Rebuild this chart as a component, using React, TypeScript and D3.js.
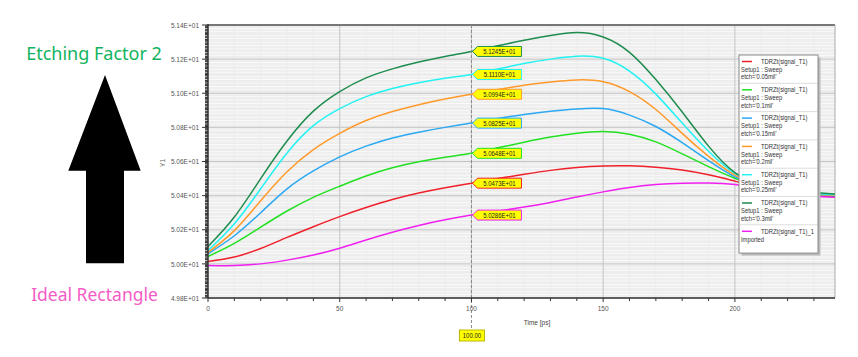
import React from "react";
import * as d3 from "d3";

const times = [0, 10, 20, 30, 40, 50, 60, 70, 80, 90, 100, 110, 120, 130, 140, 150, 160, 170, 180, 190, 200, 210, 220, 230, 238];

const etch030 = [50.102, 50.275, 50.5, 50.72, 50.895, 51.01, 51.09, 51.143, 51.183, 51.216, 51.245, 51.278, 51.31, 51.338, 51.356, 51.33, 51.24, 51.08, 50.89, 50.69, 50.535, 50.46, 50.43, 50.418, 50.41];
const etch025 = [50.078, 50.235, 50.44, 50.65, 50.81, 50.91, 50.98, 51.028, 51.062, 51.088, 51.11, 51.142, 51.174, 51.2, 51.217, 51.205, 51.13, 50.995, 50.825, 50.66, 50.53, 50.458, 50.425, 50.412, 50.405];
const etch020 = [50.067, 50.195, 50.37, 50.54, 50.67, 50.765, 50.84, 50.893, 50.933, 50.966, 50.994, 51.022, 51.047, 51.066, 51.078, 51.068, 51.01, 50.905, 50.765, 50.63, 50.52, 50.455, 50.422, 50.408, 50.402];
const etch015 = [50.059, 50.165, 50.3, 50.44, 50.545, 50.627, 50.69, 50.738, 50.772, 50.8, 50.825, 50.852, 50.876, 50.895, 50.908, 50.91, 50.872, 50.805, 50.71, 50.605, 50.51, 50.45, 50.417, 50.405, 50.4];
const etch010 = [50.043, 50.12, 50.215, 50.31, 50.39, 50.455, 50.515, 50.563, 50.598, 50.625, 50.648, 50.68, 50.713, 50.743, 50.766, 50.776, 50.76, 50.715, 50.645, 50.57, 50.502, 50.45, 50.417, 50.402, 50.398];
const etch005 = [50.014, 50.04, 50.09, 50.155, 50.218, 50.277, 50.33, 50.377, 50.415, 50.446, 50.473, 50.5, 50.525, 50.548, 50.565, 50.574, 50.575, 50.567, 50.55, 50.522, 50.485, 50.448, 50.418, 50.4, 50.394];
const imported = [49.991, 49.99, 50.0, 50.022, 50.052, 50.092, 50.14, 50.185, 50.225, 50.258, 50.286, 50.31, 50.333, 50.36, 50.392, 50.422, 50.448, 50.465, 50.473, 50.474, 50.465, 50.44, 50.412, 50.396, 50.39];

const seriesNames = ["etch='0.05mil'", "etch='0.1mil'", "etch='0.15mil'", "etch='0.2mil'", "etch='0.25mil'", "etch='0.3mil'", "Imported"];
const seriesTitles = ["TDRZt(signal_T1)", "TDRZt(signal_T1)", "TDRZt(signal_T1)", "TDRZt(signal_T1)", "TDRZt(signal_T1)", "TDRZt(signal_T1)", "TDRZt(signal_T1)_1"];
const seriesSetup = ["Setup1 : Sweep", "Setup1 : Sweep", "Setup1 : Sweep", "Setup1 : Sweep", "Setup1 : Sweep", "Setup1 : Sweep", ""];
const seriesValues = [etch005, etch010, etch015, etch020, etch025, etch030, imported];
const seriesColors = ["#f0202a", "#22e022", "#2aa8f2", "#ff9a2a", "#22f2f2", "#1e8c4e", "#f020f0"];

const yTicks = [49.8, 50.0, 50.2, 50.4, 50.6, 50.8, 51.0, 51.2, 51.4];
const xTicks = [0, 50, 100, 150, 200];
const markerTime = 100;

const W = 858, H = 357;
const L = 208, R = 835, T = 25, B = 298;
const FONT = "'Liberation Sans', Arial, sans-serif";

function NT(props: { x: number; y: number; size: number; sx: number; anchor?: string; fill?: string; children: any }) {
  const { x, y, size, sx, anchor, fill, children } = props;
  return (
    <text transform={`translate(${x},${y}) scale(${sx},1)`} dy="0.35em" fontSize={size} textAnchor={anchor || "start"} fill={fill || "#333"}>
      {children}
    </text>
  );
}

export default function App() {
  const x = d3.scaleLinear().domain([0, 238]).range([L, R]);
  const y = d3.scaleLinear().domain([49.8, 51.4]).range([B, T]);
  const line = d3.line<number>().x((_, i) => x(times[i])).y((v) => y(v)).curve(d3.curveNatural);
  const fmtY = (v: number) => (v / 10).toFixed(2) + "E+01";
  const fmtM = (v: number) => (v / 10).toFixed(4) + "E+01";

  const yMinor = d3.range(49.8, 51.4001, 0.005).filter((v) => Math.abs(Math.round(v / 0.02) * 0.02 - v) > 1e-6);
  const xMinor = d3.range(0, 238, 10).filter((v) => v % 50 !== 0);
  const mi = times.indexOf(markerTime);
  const mx = x(markerTime);

  const legX = 739, legY = 55, legW = 79, entryH = 28.3;

  return (
    <svg width={W} height={H} style={{ position: "absolute", left: 0, top: 0, background: "#fff" }} fontFamily={FONT}>
      {/* grid */}
      {yMinor.map((v, i) => (
        <line key={"ym" + i} x1={L} x2={R} y1={y(v)} y2={y(v)} stroke="#ececec" strokeWidth={1} />
      ))}
      {xMinor.map((v) => (
        <line key={"xm" + v} x1={x(v)} x2={x(v)} y1={T} y2={B} stroke="#ececec" strokeWidth={1} />
      ))}
      {yTicks.map((v) => (
        <line key={"yg" + v} x1={L} x2={R} y1={y(v)} y2={y(v)} stroke="#c4c4c4" strokeWidth={1} />
      ))}
      {xTicks.filter((v) => v !== 0).map((v) => (
        <line key={"xg" + v} x1={x(v)} x2={x(v)} y1={T} y2={B} stroke="#c4c4c4" strokeWidth={1} />
      ))}
      <line x1={L} x2={R} y1={T} y2={T} stroke="#555" strokeWidth={1.5} />
      <line x1={R} x2={R} y1={T} y2={B} stroke="#aaa" strokeWidth={1} />

      {/* series */}
      {seriesValues.map((vals, i) => (
        <path key={"s" + i} d={line(vals) || ""} fill="none" stroke={seriesColors[i]} strokeWidth={1.5} />
      ))}

      {/* marker line */}
      <line x1={mx} x2={mx} y1={T} y2={330} stroke="#888" strokeWidth={1} strokeDasharray="3,2" />

      {/* axes */}
      <line x1={L} x2={L} y1={T - 1} y2={B} stroke="#333" strokeWidth={1.5} />
      <line x1={L} x2={R} y1={B} y2={B} stroke="#333" strokeWidth={1.5} />
      {yTicks.map((v) => (
        <g key={"yt" + v}>
          <line x1={L - 6} x2={L} y1={y(v)} y2={y(v)} stroke="#333" />
          <NT x={L - 9} y={y(v)} size={7.5} sx={0.87} anchor="end" fill="#555">{fmtY(v)}</NT>
        </g>
      ))}
      {yMinor.map((v, i) => (
        <line key={"ymt" + i} x1={L - 3} x2={L} y1={y(v)} y2={y(v)} stroke="#333" />
      ))}
      {xTicks.map((v) => (
        <g key={"xt" + v}>
          <line x1={x(v)} x2={x(v)} y1={B} y2={B + 4} stroke="#333" />
          <NT x={x(v)} y={B + 10} size={7.5} sx={0.87} anchor="middle" fill="#555">{v}</NT>
        </g>
      ))}
      {xMinor.map((v) => (
        <line key={"xmt" + v} x1={x(v)} x2={x(v)} y1={B} y2={B + 3} stroke="#333" />
      ))}
      <NT x={537} y={322} size={7.5} sx={0.87} anchor="middle" fill="#444">Time [ps]</NT>
      <text transform={`translate(163,163) rotate(-90)`} textAnchor="middle" dy="0.35em" fontSize={7} fill="#666">Y1</text>

      {/* marker labels */}
      {seriesValues.map((vals, i) => {
        const my = y(vals[mi]);
        const bx = mx + 6, bw = 44, bh = 10;
        return (
          <g key={"ml" + i}>
            <path d={`M${mx + 1},${my} L${bx},${my - bh / 2} L${bx + bw},${my - bh / 2} L${bx + bw},${my + bh / 2} L${bx},${my + bh / 2} Z`} fill="#ffff00" stroke={seriesColors[i]} strokeWidth={1} />
            <NT x={bx + bw / 2} y={my} size={7.5} sx={0.8} anchor="middle" fill="#222">{fmtM(vals[mi])}</NT>
          </g>
        );
      })}
      <rect x={mx - 12} y={330} width={25} height={11} fill="#ffff00" stroke="#b8b800" />
      <NT x={mx + 0.5} y={335.5} size={7.5} sx={0.8} anchor="middle" fill="#222">{markerTime.toFixed(2)}</NT>

      {/* legend */}
      <rect x={legX + 2.5} y={legY + 2.5} width={legW} height={entryH * 7} fill="#bbb" />
      <rect x={legX} y={legY} width={legW} height={entryH * 7} fill="#fff" stroke="#888" strokeWidth={1} />
      {seriesNames.map((n, i) => {
        const ey = legY + i * entryH;
        return (
          <g key={"lg" + i}>
            {i > 0 && <line x1={legX + 1} x2={legX + legW - 1} y1={ey} y2={ey} stroke="#ddd" />}
            <line x1={legX + 3} x2={legX + 13} y1={ey + 6.5} y2={ey + 6.5} stroke={seriesColors[i]} strokeWidth={1.5} />
            <NT x={legX + 22} y={ey + 6.5} size={6.5} sx={0.9}>{seriesTitles[i]}</NT>
            {seriesSetup[i] ? (
              <>
                <NT x={legX + 2} y={ey + 14.5} size={6.5} sx={0.9}>{seriesSetup[i]}</NT>
                <NT x={legX + 2} y={ey + 22} size={6.5} sx={0.9}>{n}</NT>
              </>
            ) : (
              <NT x={legX + 2} y={ey + 14.5} size={6.5} sx={0.9}>{n}</NT>
            )}
          </g>
        );
      })}

      {/* annotations */}
      <text x={94} y={59.5} textAnchor="middle" fontFamily="'Noto Sans', sans-serif" fontSize={18} fill="#12b35e">Etching Factor 2</text>
      <polygon points="105,75 140.7,170.7 124,170.7 124,263.3 86,263.3 86,170.7 68.3,170.7" fill="#000" />
      <text x={94.5} y={300.5} textAnchor="middle" fontFamily="'Noto Sans', sans-serif" fontSize={17.5} fill="#f45cc6">Ideal Rectangle</text>
    </svg>
  );
}
